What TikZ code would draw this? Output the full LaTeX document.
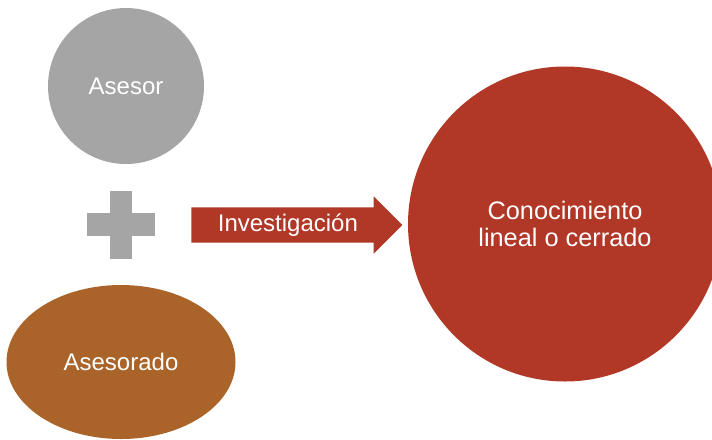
\documentclass[tikz,border=0pt]{standalone}
\usepackage{fontspec}
\setmainfont{Liberation Sans}
\usetikzlibrary{shapes.geometric,shapes.arrows}
\definecolor{asesorgray}{HTML}{A5A5A5}
\definecolor{asesoradobrown}{HTML}{AA6429}
\definecolor{conocred}{HTML}{B13727}

\begin{document}
\begin{tikzpicture}[x=0.75pt,y=-0.75pt,
    bubble/.style={
% The shape:
ellipse,
% The border:
      draw=none, inner sep=0pt,
      % The text:
text=white, align=center,
font=\fontsize{18}{21}\selectfont
    },
    blockarrow/.style={
% The shape:
single arrow, single arrow head extend=8.25pt,
      minimum height=158.25pt,
      % The filling and the text:
fill=conocred, text=white,
      text height=13pt, text depth=4pt, inner ysep=4.6pt,
font=\fontsize{18}{21}\selectfont
    }]
  \useasboundingbox (0,0) rectangle (712,439);
  \node [bubble, fill=asesorgray, minimum width=117pt, minimum height=117pt]
    (asesor) at (126,86) {Asesor};
  \node [bubble, fill=asesoradobrown, minimum width=171.75pt, minimum height=115.5pt]
    (asesorado) at (121,362) {Asesorado};
  \node [bubble, fill=conocred, minimum width=235.5pt, minimum height=236.25pt,
    font=\fontsize{19}{20.25}\selectfont]
    (conocimiento) at (565,224) {Conocimiento\\lineal o cerrado};
  % the plus sign
  \fill [asesorgray] (110,191) rectangle (132,259);
  \fill [asesorgray] (87,213) rectangle (155,236);
  \node [blockarrow, anchor=tail] (investigacion) at (191,225) {Investigación};
\end{tikzpicture}
\end{document}
